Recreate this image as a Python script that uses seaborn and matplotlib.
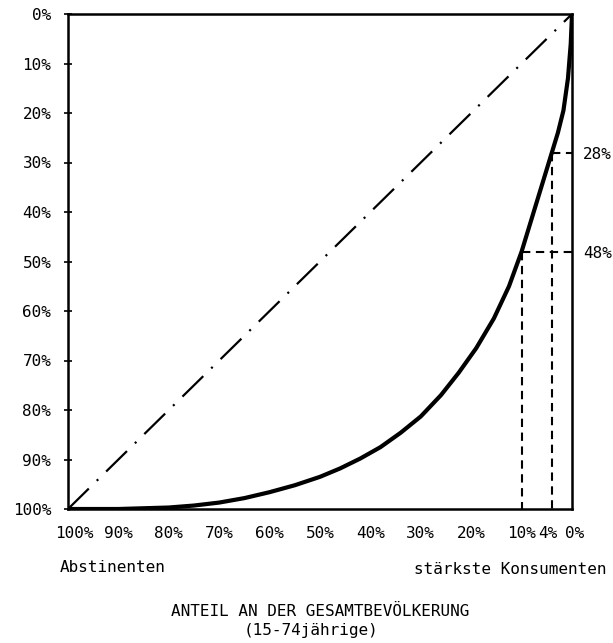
import matplotlib
matplotlib.use("Agg")
import matplotlib.pyplot as plt
import matplotlib.transforms as mtransforms
import seaborn as sns
import pandas as pd

# ---- data ----
# population share counted from the heaviest consumers (%)
curve_pop = [0, 0.25, 0.8, 1.7, 2.8, 4, 5.5, 7, 8.5, 10, 12.5, 15.5, 19, 22.5, 26, 30,
             34, 38, 42, 46, 50, 55, 60, 65, 70, 75, 80, 90, 100]
# cumulative share of consumption (%)
curve_cons = [0, 6, 13, 19.5, 24, 28, 33, 38, 43, 48, 55, 61.5, 67.5, 72.5, 77, 81.3,
              84.6, 87.5, 89.8, 91.8, 93.5, 95.2, 96.6, 97.8, 98.7, 99.3, 99.7, 100, 100]
diag_pop = [100, 0]
diag_cons = [100, 0]
ref_pop = [4, 10]
ref_cons = [28, 48]
ref_labels = ["28%", "48%"]
x_ticks = [100, 90, 80, 70, 60, 50, 40, 30, 20, 10, 4, 0]
x_ticklabels = ["100%", "90%", "80%", "70%", "60%", "50%", "40%", "30%", "20%", "10%", "4%", "0%"]
y_ticks = [0, 10, 20, 30, 40, 50, 60, 70, 80, 90, 100]
y_ticklabels = ["0%", "10%", "20%", "30%", "40%", "50%", "60%", "70%", "80%", "90%", "100%"]
left_note = "Abstinenten"
right_note = "stärkste Konsumenten"
xlabel_1 = "ANTEIL AN DER GESAMTBEVÖLKERUNG"
xlabel_2 = "(15-74jährige)"

sns.set_style("white")
plt.rcParams["font.family"] = ["DejaVu Sans Mono", "DejaVu Sans"]
plt.rcParams["lines.scale_dashes"] = False
plt.rcParams["text.color"] = "black"
plt.rcParams["xtick.color"] = "black"
plt.rcParams["ytick.color"] = "black"

fs = 11.5
fig = plt.figure(figsize=(6.13, 6.43), dpi=100)
ax = fig.add_axes([68 / 613, 1 - 509 / 643, (572 - 68) / 613, (509 - 14) / 643])

df_curve = pd.DataFrame({"pop": curve_pop, "cons": curve_cons})
df_diag = pd.DataFrame({"pop": diag_pop, "cons": diag_cons})

sns.lineplot(data=df_diag, x="pop", y="cons", ax=ax, color="black", linewidth=1.6,
             sort=False, estimator=None)
ax.lines[-1].set_dashes([21, 8, 1.5, 8])

for p, c in zip(ref_pop, ref_cons):
    sns.lineplot(x=[p, p], y=[c, 100], ax=ax, color="black", linewidth=1.5,
                 sort=False, estimator=None)
    ax.lines[-1].set_dashes([6, 4])
    sns.lineplot(x=[p, 0], y=[c, c], ax=ax, color="black", linewidth=1.5,
                 sort=False, estimator=None)
    ax.lines[-1].set_dashes([6, 4])

sns.lineplot(data=df_curve, x="pop", y="cons", ax=ax, color="black", linewidth=3.0,
             sort=False, estimator=None)
ax.lines[-1].set_solid_joinstyle("round")
ax.lines[-1].set_solid_capstyle("round")

ax.set_xlim(100, 0)
ax.set_ylim(100, 0)
ax.set_xticks(x_ticks)
ax.set_xticklabels(x_ticklabels, fontsize=fs)
ax.set_yticks(y_ticks)
ax.set_yticklabels(y_ticklabels, fontsize=fs)
ax.set_xlabel("")
ax.set_ylabel("")
ax.tick_params(axis="both", direction="inout", length=6, width=1.2, color="black", pad=9)

# small horizontal nudges of crowded x tick labels
shifts = {"100%": 6, "4%": -4, "0%": 3}
for lab in ax.get_xticklabels():
    dx = shifts.get(lab.get_text(), 0)
    if dx:
        lab.set_transform(lab.get_transform() +
                          mtransforms.ScaledTranslation(dx / 100, 0, fig.dpi_scale_trans))

for s in ax.spines.values():
    s.set_visible(True)
    s.set_color("black")
    s.set_linewidth(1.8)

tw = ax.twinx()
tw.set_ylim(100, 0)
tw.set_yticks(ref_cons)
tw.set_yticklabels(ref_labels, fontsize=fs)
tw.tick_params(axis="y", length=0, pad=8)
for s in tw.spines.values():
    s.set_visible(False)

fig.text(60 / 613, 1 - 567 / 643, left_note, fontsize=fs, ha="left", va="center")
fig.text(607 / 613, 1 - 569 / 643, right_note, fontsize=fs, ha="right", va="center")
fig.text(320 / 613, 1 - 611 / 643, xlabel_1, fontsize=fs, ha="center", va="center")
fig.text(311 / 613, 1 - 631 / 643, xlabel_2, fontsize=fs, ha="center", va="center")

fig.savefig("out.png", dpi=100, facecolor="white")
